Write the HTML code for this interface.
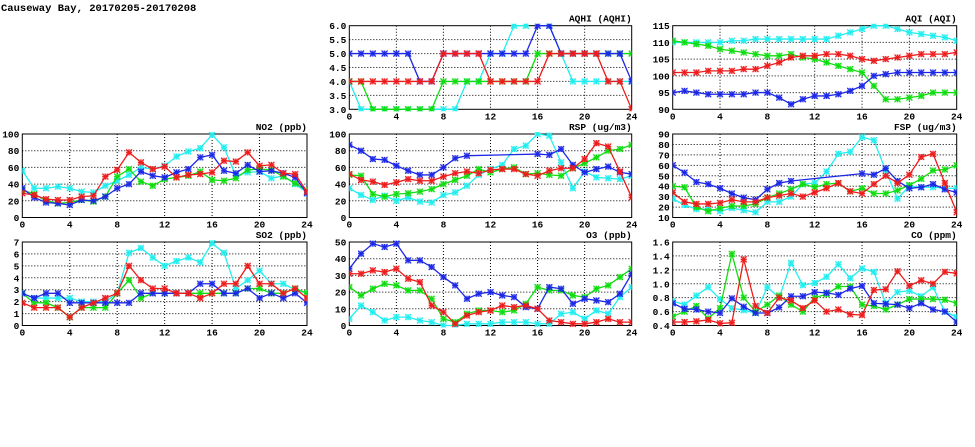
<!DOCTYPE html>
<html><head><meta charset="utf-8"><style>
html,body{margin:0;padding:0;background:#fff;width:975px;height:447px;overflow:hidden}
svg{display:block}
text{font-family:"Liberation Mono","DejaVu Sans Mono",monospace;fill:#000}
</style></head><body>
<svg id="chart" width="975" height="447" xmlns="http://www.w3.org/2000/svg">
<text x="1" y="11" font-size="10.5" font-weight="bold">Causeway Bay, 20170205-20170208</text>
</svg>
<script>
const hours=[0,1,2,3,4,5,6,7,8,9,10,11,12,13,14,15,16,17,18,19,20,21,22,23,24];
const xTicks=[0,4,8,12,16,20,24];
const seriesColors=["#22eef0","#10dd10","#ee1c1c","#1c28e6"];
const seriesNames=["cyan","green","red","blue"];
const N=null;
// NO2
const no2Cyan=[56,35,35,37,35,31,30,38,44,51,60,58,62,73,79,83,99,84,50,54,55,47,50,40,30];
const no2Green=[33,28,20,17,18,21,19,25,49,58,43,38,46,48,50,55,45,44,47,57,58,57,49,41,32];
const no2Red=[29,27,22,21,21,25,26,49,57,78,66,58,61,48,51,52,54,68,67,78,62,63,53,52,31];
const no2Blue=[35,24,18,17,15,21,20,25,35,40,55,50,48,54,58,72,75,56,53,63,55,56,53,48,29];
const no2Ticks=[0,20,40,60,80,100];
// AQHI
const aqhiCyan=[4,3,3,3,3,3,3,3,3,3,4,4,5,5,6,6,7,6,5,4,4,4,4,4,4];
const aqhiGreen=[4,4,3,3,3,3,3,3,4,4,4,4,4,4,4,4,5,5,5,5,5,5,5,5,5];
const aqhiRed=[4,4,4,4,4,4,4,4,5,5,5,5,4,4,4,4,4,5,5,5,5,5,4,4,3];
const aqhiBlue=[5,5,5,5,5,5,4,4,5,5,5,5,5,5,5,5,6,6,5,5,5,5,5,5,4];
const aqhiTicks=["3.0","3.5","4.0","4.5","5.0","5.5","6.0"];
// AQI
const aqiCyan=[110,110,110,110,110,110.5,110.5,111,111,111,111,111,111,111,112,113,114,115,115,114,113,112.5,112,111.5,110.5];
const aqiGreen=[110.5,110,109.5,109,108,107.5,107,106.5,106,106,106.5,105.5,105,104,103,102,101,97,93,93,93.5,94,95,95,95];
const aqiRed=[101,101,101,101.5,101.5,101.5,102,102,103,104,105.5,106,106,106.5,106.5,106,105,104.5,105,105.5,106,106.5,106.5,106.5,107];
const aqiBlue=[95,95.5,95,94.5,94.5,94.5,94.5,95,95,93.5,91.5,93,94,94,94.5,95.5,97,100,100.5,101,101,101,101,101,101];
const aqiTicks=[90,95,100,105,110,115];
// RSP
const rspCyan=[35,27,21,26,20,24,19,18,27,30,38,51,58,63,82,86,100,98,66,35,55,48,47,46,50];
const rspGreen=[51,50,28,25,28,29,31,34,40,45,50,58,54,58,60,52,53,51,50,59,65,72,80,82,87];
const rspRed=[52,45,43,39,42,46,44,44,49,53,55,53,57,58,58,52,50,56,59,59,70,89,85,55,24];
const rspBlue=[87,80,70,69,62,56,51,51,60,71,74,N,N,N,N,N,76,75,82,63,54,58,61,54,52];
const rspTicks=[0,20,40,60,80,100];
// FSP
const fspCyan=[28,22,18,18,16,19,17,15,25,25,30,42,43,54,71,73,87,84,55,28,40,39,39,38,38];
const fspGreen=[40,39,20,16,19,21,21,23,29,33,37,42,39,42,43,35,38,33,33,36,41,47,55,56,60];
const fspRed=[34,25,23,23,24,27,25,25,29,31,33,30,34,38,43,35,33,42,50,43,51,68,71,43,15];
const fspBlue=[60,53,44,42,38,33,29,27,37,43,45,N,N,N,N,N,52,51,57,45,38,39,42,37,34];
const fspTicks=[10,20,30,40,50,60,70,80,90];
// SO2
const so2Cyan=[2.7,2.3,2.3,2.3,2.3,2,2,2,2.7,6.1,6.5,5.7,5,5.4,5.7,5.3,6.9,6.1,3.1,3.8,4.6,3.5,3.5,3,2.7];
const so2Green=[2.7,1.9,1.9,1.5,0.7,1.5,1.5,1.5,2.7,3.8,2.3,2.7,2.7,2.7,2.7,2.7,2.7,2.7,2.7,3.1,3.1,2.7,2.7,3.1,2.7];
const so2Red=[1.9,1.5,1.5,1.5,0.7,1.5,1.9,2.3,2.7,5,3.8,3.1,3.1,2.7,2.7,2.3,2.7,3.5,3.5,5,3.5,3.5,2.7,3.1,2.3];
const so2Blue=[2.7,2.3,2.7,2.7,1.9,1.9,1.9,1.9,1.9,1.9,2.7,2.7,2.7,2.7,2.7,3.5,3.5,2.7,2.7,3.1,2.3,2.7,2.3,2.7,1.9];
const so2Ticks=[0,1,2,3,4,5,6,7];
// O3
const o3Cyan=[4,12,8,3,5,5,3,2,0,0,1,1,1,2,2,2,1,1,7,8,4,9,7,17,23];
const o3Green=[23,18,22,25,24,21,21,16,4,2,7,9,9,8,9,13,23,21,21,18,17,22,24,29,34];
const o3Red=[31,31,33,32,34,28,26,12,8,1,6,8,9,12,11,12,10,3,2,1,1,2,4,2,2];
const o3Blue=[34,43,49,47,49,39,39,35,29,24,16,19,20,18,17,11,10,23,22,13,16,15,14,19,31];
const o3Ticks=[0,10,20,30,40,50];
// CO
const coCyan=[0.75,0.7,0.83,0.95,0.78,0.65,0.62,0.58,0.95,0.8,1.3,0.98,1.01,1.1,1.28,1.08,1.22,1.17,0.72,0.88,0.9,0.82,0.95,0.6,0.52];
const coGreen=[0.53,0.6,0.68,0.5,0.65,1.43,0.8,0.6,0.7,0.83,0.7,0.6,0.8,0.85,0.96,0.96,0.7,0.68,0.63,0.7,0.78,0.78,0.78,0.77,0.72];
const coRed=[0.45,0.45,0.46,0.48,0.43,0.44,1.35,0.68,0.58,0.8,0.76,0.65,0.76,0.6,0.63,0.56,0.55,0.91,0.92,1.18,0.97,1.05,1.0,1.17,1.15];
const coBlue=[0.72,0.64,0.63,0.6,0.58,0.79,0.67,0.58,0.58,0.66,0.82,0.82,0.88,0.87,0.84,0.93,0.97,0.72,0.71,0.7,0.65,0.72,0.63,0.6,0.45];
const coTicks=["0.4","0.6","0.8","1.0","1.2","1.4","1.6"];

const panels=[
 {id:"aqhi",title:"AQHI (AQHI)",x0:349.3,x1:631.7,y0:25.7,y1:109.3,ticks:aqhiTicks,s:[aqhiCyan,aqhiGreen,aqhiRed,aqhiBlue]},
 {id:"aqi",title:"AQI (AQI)",x0:672.7,x1:956.7,y0:25.7,y1:109.3,ticks:aqiTicks,s:[aqiCyan,aqiGreen,aqiRed,aqiBlue]},
 {id:"no2",title:"NO2 (ppb)",x0:22.3,x1:307,y0:134,y1:217.5,ticks:no2Ticks,s:[no2Cyan,no2Green,no2Red,no2Blue]},
 {id:"rsp",title:"RSP (ug/m3)",x0:349.3,x1:631.7,y0:134,y1:217.5,ticks:rspTicks,s:[rspCyan,rspGreen,rspRed,rspBlue]},
 {id:"fsp",title:"FSP (ug/m3)",x0:672.7,x1:956.7,y0:134,y1:217.5,ticks:fspTicks,s:[fspCyan,fspGreen,fspRed,fspBlue]},
 {id:"so2",title:"SO2 (ppb)",x0:22.3,x1:307,y0:242,y1:325.5,ticks:so2Ticks,s:[so2Cyan,so2Green,so2Red,so2Blue]},
 {id:"o3",title:"O3 (ppb)",x0:349.3,x1:631.7,y0:242,y1:325.5,ticks:o3Ticks,s:[o3Cyan,o3Green,o3Red,o3Blue]},
 {id:"co",title:"CO (ppm)",x0:672.7,x1:956.7,y0:242,y1:325.5,ticks:coTicks,s:[coCyan,coGreen,coRed,coBlue]}
];
const NS="http://www.w3.org/2000/svg";
const svg=document.getElementById("chart");
function mk(tag,attrs,parent){const e=document.createElementNS(NS,tag);for(const k in attrs)e.setAttribute(k,attrs[k]);(parent||svg).appendChild(e);return e;}
const drawOrder=[0,1,3,2];
panels.forEach(p=>{
 const g=mk("g",{});
 
 
 const tv=p.ticks.map(Number);
 const ymin=tv[0],ymax=tv[tv.length-1];
 const xs=v=>p.x0+(v-hours[0])/(hours[hours.length-1]-hours[0])*(p.x1-p.x0);
 const ys=v=>p.y1-(v-ymin)/(ymax-ymin)*(p.y1-p.y0);
 mk("defs",{},g).innerHTML='<clipPath id="clip-'+p.id+'"><rect x="'+p.x0+'" y="'+(p.y0-2)+'" width="'+(p.x1-p.x0)+'" height="'+(p.y1-p.y0+4)+'"/></clipPath>';
 // grid
 xTicks.forEach(t=>{
  const x=xs(t);
  if(t!==xTicks[0]&&t!==xTicks[xTicks.length-1]){const l=mk("line",{x1:x,x2:x,y1:p.y0,y2:p.y1,stroke:"#000","stroke-width":1,"stroke-dasharray":"1,2"},g);}
  const tl=mk("text",{x:x,y:p.y1+10,"font-size":"9.5","font-weight":"bold","text-anchor":"middle"},g);tl.textContent=t;
  
 });
 p.ticks.forEach((t,i)=>{
  const y=ys(Number(t));
  if(i>0&&i<p.ticks.length-1){const l=mk("line",{x1:p.x0,x2:p.x1,y1:y,y2:y,stroke:"#000","stroke-width":1,"stroke-dasharray":"1,2"},g);}
  const tl=mk("text",{x:p.x0-3,y:y+3.5,"font-size":"9.5","font-weight":"bold","text-anchor":"end"},g);tl.textContent=t;
  
 });
 const fr=mk("rect",{x:p.x0,y:p.y0,width:p.x1-p.x0,height:p.y1-p.y0,fill:"none",stroke:"#000","stroke-width":1},g);
 
 const tt=mk("text",{x:p.x1,y:p.y0-4,"font-size":"9.5","font-weight":"bold","text-anchor":"end"},g);tt.textContent=p.title;
 
 const sg=mk("g",{"clip-path":"url(#clip-"+p.id+")"},g);
 drawOrder.forEach(si=>{
  const vals=p.s[si],c=seriesColors[si];
  const pts=[];
  vals.forEach((v,i)=>{if(v!==null)pts.push([xs(hours[i]),ys(v)]);});
  const line=mk("polyline",{points:pts.map(q=>q.join(",")).join(" "),fill:"none",stroke:c,"stroke-width":1.3},sg);
  
  
  pts.forEach(q=>{
   const [x,y]=q,r=3;
   const m=mk("g",{},sg);
   
   
   mk("rect",{x:x-r,y:y-r,width:2*r,height:2*r,fill:c,opacity:0.35},m);
   mk("path",{d:`M${x-r} ${y-r}L${x+r} ${y+r}M${x-r} ${y+r}L${x+r} ${y-r}M${x} ${y-r}L${x} ${y+r}M${x-r} ${y}L${x+r} ${y}`,stroke:c,"stroke-width":1.1},m);
  });
 });
});
</script>
</body></html>
